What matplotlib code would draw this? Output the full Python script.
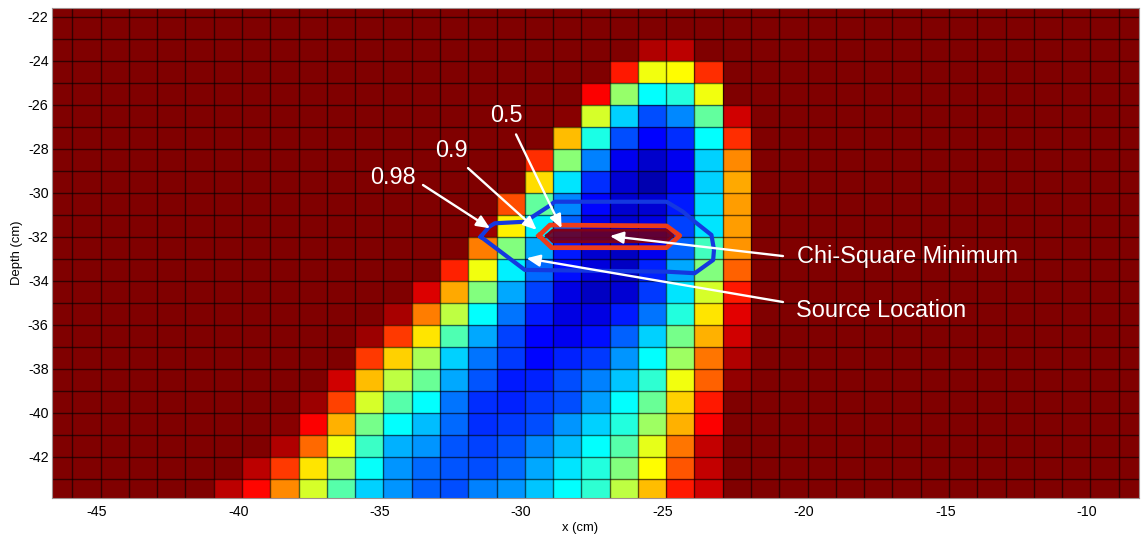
#imports
import numpy as np
import matplotlib
matplotlib.use("Agg")
import matplotlib.pyplot as plt
from matplotlib.colors import LinearSegmentedColormap
from matplotlib.transforms import ScaledTranslation

plt.rcParams['font.family'] = ['Liberation Sans', 'DejaVu Sans']
plt.rcParams['axes.unicode_minus'] = False

# cell edges in cm
x_edges = list(range(-47, -7))
depth_edges = list(range(-44, -20))

# normalised values, left column starts at x = -41, first row is depth -44 to -43
first_col = -41
background = 1.0
rows = [
    [.94, .87, .74, .585, .46, .33, .27, .22, .20, .25, .27, .32, .375, .42, .56, .69, .85, .92, 1],
    [1, .94, .82, .65, .53, .38, .27, .23, .21, .20, .23, .29, .35, .41, .50, .625, .79, .93, 1],
    [1, 1, .95, .77, .61, .43, .30, .27, .21, .19, .21, .26, .31, .375, .46, .60, .76, .93, 1],
    [1, 1, .99, .875, .70, .49, .375, .31, .23, .17, .18, .20, .27, .33, .41, .53, .70, .875, 1],
    [1, 1, 1, .97, .81, .585, .46, .375, .24, .17, .16, .18, .20, .28, .375, .48, .67, .85, 1],
    [1, 1, 1, 1, .92, .69, .56, .48, .29, .21, .15, .16, .20, .25, .32, .42, .61, .78, .98],
    [1, 1, 1, 1, 1, .82, .67, .54, .33, .24, .18, .13, .16, .18, .27, .375, .53, .76, .95],
    [1, 1, 1, 1, 1, .97, .82, .65, .45, .29, .19, .125, .11, .14, .22, .33, .49, .70, .92],
    [1, 1, 1, 1, 1, 1, .96, .75, .56, .375, .24, .15, .10, .10, .15, .24, .41, .65, .90],
    [1, 1, 1, 1, 1, 1, 1, .91, .71, .50, .29, .19, .10, .07, .085, .18, .35, .585, .85],
    [1, 1, 1, 1, 1, 1, 1, 1, .84, .61, .36, .23, .14, .09, .07, .16, .29, .50, .78],
    [1, 1, 1, 1, 1, 1, 1, 1, 1, .75, .50, .29, .15, .08, .07, .11, .22, .44, .73],
    [1, 1, 1, 1, 1, 1, 1, 1, 1, .97, .64, .36, .22, .10, .08, .10, .19, .35, .72],
    [1, 1, 1, 1, 1, 1, 1, 1, 1, 1, .80, .47, .26, .13, .08, .085, .15, .34, .72],
    [1, 1, 1, 1, 1, 1, 1, 1, 1, 1, 1, .66, .35, .17, .085, .05, .11, .33, .71],
    [1, 1, 1, 1, 1, 1, 1, 1, 1, 1, 1, .83, .51, .25, .11, .075, .11, .33, .74],
    [1, 1, 1, 1, 1, 1, 1, 1, 1, 1, 1, 1, .69, .40, .20, .125, .17, .375, .83],
    [1, 1, 1, 1, 1, 1, 1, 1, 1, 1, 1, 1, .99, .585, .33, .20, .26, .47, .92],
    [1, 1, 1, 1, 1, 1, 1, 1, 1, 1, 1, 1, 1, .875, .52, .375, .41, .61, 1],
    [1, 1, 1, 1, 1, 1, 1, 1, 1, 1, 1, 1, 1, 1, .85, .61, .625, .83, 1],
    [1, 1, 1, 1, 1, 1, 1, 1, 1, 1, 1, 1, 1, 1, 1, .95, .94, 1, 1],
]

# contours
outer_x = [-31.56, -31.26, -31.06, -30.0, -29.18, -28.94, -24.99, -24.41, -23.99, -23.4, -23.31, -23.34, -23.99, -24.99, -30.0, -31.56]
outer_y = [-32.0, -31.55, -31.39, -31.32, -30.64, -30.41, -30.41, -30.86, -31.32, -31.92, -32.6, -33.06, -33.66, -33.59, -33.51, -32.0]
middle_x = [-29.5, -29.11, -24.99, -24.52, -24.99, -29.05, -29.5]
middle_y = [-31.95, -31.47, -31.51, -31.95, -32.5, -32.5, -31.95]
inner_x = [-29.23, -29.01, -24.99, -24.76, -24.99, -29.01, -29.23]
inner_y = [-31.95, -31.70, -31.70, -31.95, -32.23, -32.23, -31.95]

# labels and the arrows that go with them
label_names = ["0.98", "0.9", "0.5", "Chi-Square Minimum", "Source Location"]
label_x = [-35.48, -33.18, -31.23, -20.38, -20.41]
label_y = [-29.33, -28.06, -26.47, -32.88, -35.35]
arrow_start_x = [-33.6, -32.01, -30.31, -20.87, -20.87]
arrow_start_y = [-29.65, -28.88, -27.35, -32.88, -34.97]
arrow_tip_x = [-31.23, -29.58, -28.7, -26.99, -29.94]
arrow_tip_y = [-31.62, -31.69, -31.62, -31.97, -32.98]

x_ticks = [-45, -40, -35, -30, -25, -20, -15, -10]
y_ticks = [-42, -40, -38, -36, -34, -32, -30, -28, -26, -24, -22]

# matlab style jet, matplotlib's own one has its nodes in slightly different places
jet = LinearSegmentedColormap.from_list("matlab_jet", [
    (0, (0, 0, .5)), (1 / 8, (0, 0, 1)), (3 / 8, (0, 1, 1)),
    (5 / 8, (1, 1, 0)), (7 / 8, (1, 0, 0)), (1, (.5, 0, 0))], N=256)

values = np.full((len(depth_edges) - 1, len(x_edges) - 1), background)
values[:len(rows), first_col - x_edges[0]:first_col - x_edges[0] + len(rows[0])] = np.array(rows)

fig = plt.figure(figsize=(11.41, 5.34), dpi=100)
ax = fig.add_axes([52 / 1141, 36 / 534, 1087 / 1141, 490.5 / 534])
ax.pcolormesh(x_edges, depth_edges, values, cmap=jet, vmin=0, vmax=1, linewidth=0)

# grid as separate lines so every one of them gets the same weight
for x in x_edges:
    ax.plot([x, x], [depth_edges[0], depth_edges[-1]], color='black', alpha=.6, lw=1.0, snap=True, zorder=2)
for y in depth_edges:
    ax.plot([x_edges[0], x_edges[-1]], [y, y], color='black', alpha=.6, lw=1.0, snap=True, zorder=2)

ax.fill(inner_x, inner_y, color='#6a0024', alpha=.9, lw=0, zorder=3)
ax.plot(outer_x, outer_y, color='#1438e0', lw=3.0, solid_joinstyle='round', zorder=4)
ax.plot(middle_x, middle_y, color='#ee3c18', lw=3.4, solid_joinstyle='round', zorder=4)
ax.plot(inner_x, inner_y, color='#800018', lw=2.0, zorder=4)

for i in range(len(label_names)):
    ax.text(label_x[i], label_y[i], label_names[i], color='white', fontsize=16.9,
            ha='left', va='center', zorder=6)
    ax.annotate("", xy=(arrow_tip_x[i], arrow_tip_y[i]),
                xytext=(arrow_start_x[i], arrow_start_y[i]),
                arrowprops=dict(arrowstyle='-|>,head_length=0.5,head_width=0.22', color='white',
                                lw=1.7, mutation_scale=16, shrinkA=0, shrinkB=0), zorder=5)

ax.set_xlim(-46.72, -8.28)
ax.set_ylim(-43.88, -21.58)
ax.set_xticks(x_ticks)
ax.set_yticks(y_ticks)
ax.tick_params(length=0, labelsize=10.3, labelcolor='black')
ax.tick_params(axis='x', pad=5)
ax.tick_params(axis='y', pad=2.5)
# the labels sit a little left of the grid lines in the reference
for lab in ax.get_xticklabels():
    lab.set_transform(lab.get_transform() + ScaledTranslation(-2.7 / 72, 0, fig.dpi_scale_trans))
ax.set_xlabel("x (cm)", fontsize=9.4)
ax.xaxis.set_label_coords(.486, -.049, transform=ax.transAxes)
ax.xaxis.label.set_va('top')
ax.set_ylabel("Depth (cm)", fontsize=9.4)
ax.yaxis.set_label_coords(-.0265, .5, transform=ax.transAxes)
for s in ax.spines.values():
    s.set_color('#a09090')
    s.set_linewidth(.8)

fig.savefig("out.png", dpi=100)
